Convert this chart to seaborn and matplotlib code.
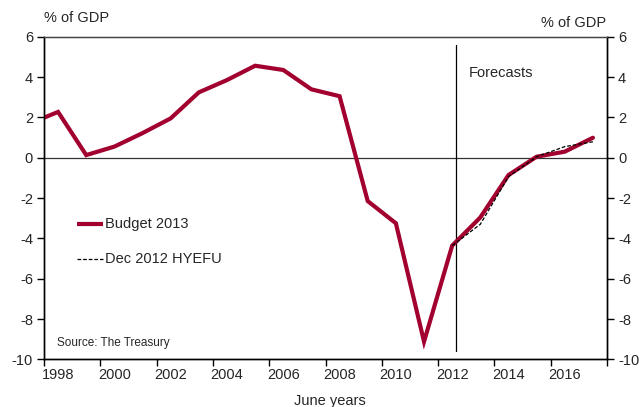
import numpy as np
import pandas as pd
import seaborn as sns
import matplotlib
matplotlib.use("Agg")
import matplotlib.pyplot as plt
from matplotlib.ticker import FixedLocator, NullFormatter, FixedFormatter

# Operating balance, % of GDP, June years
budget_years = [1997, 1998, 1999, 2000, 2001, 2002, 2003, 2004, 2005, 2006, 2007,
                2008, 2009, 2010, 2011, 2012, 2013, 2014, 2015, 2016, 2017]
budget_values = [1.7, 2.27, 0.13, 0.55, 1.22, 1.95, 3.24, 3.85, 4.56, 4.35, 3.39,
                 3.05, -2.15, -3.25, -9.12, -4.36, -2.96, -0.86, 0.05, 0.30, 0.99]

hyefu_years = [2012, 2013, 2014, 2015, 2016, 2017]
hyefu_values = [-4.36, -3.3, -0.94, 0.05, 0.55, 0.79]

tick_years = [1998, 2000, 2002, 2004, 2006, 2008, 2010, 2012, 2014, 2016]
y_ticks = [-10, -8, -6, -4, -2, 0, 2, 4, 6]

forecast_start = 2012.64

sns.set_theme(style="white")
plt.rcParams["font.family"] = ["Liberation Sans", "DejaVu Sans"]

RED = "#A2002F"
FS = 10.5

df_b = pd.DataFrame({"year": np.array(budget_years) + 0.5, "value": budget_values,
                     "series": "Budget 2013"})
df_h = pd.DataFrame({"year": np.array(hyefu_years) + 0.5, "value": hyefu_values,
                     "series": "Dec 2012 HYEFU"})

fig = plt.figure(figsize=(6.42, 4.07), dpi=100)
ax = fig.add_axes([44 / 642, 1 - 359.4 / 407, (607 - 44) / 642, (359.4 - 36.7) / 407])

ax.axhline(0, color="#333333", lw=0.9, zorder=1)
ax.axvline(forecast_start, ymin=(-9.57 + 10) / 16, ymax=(5.6 + 10) / 16,
           color="black", lw=0.9, zorder=1)

sns.lineplot(data=df_b, x="year", y="value", color=RED, lw=3.0, ax=ax,
             legend=False, zorder=3, solid_joinstyle="miter")
sns.lineplot(data=df_h, x="year", y="value", color="black", lw=0.9, ax=ax,
             legend=False, zorder=4, linestyle=(0, (3, 1.5)))

ax.set_xlim(1998, 2018)
ax.set_ylim(-10, 6)
ax.set_xlabel("")
ax.set_ylabel("")

ax.xaxis.set_major_locator(FixedLocator(tick_years + [2018]))
ax.xaxis.set_major_formatter(NullFormatter())
ax.xaxis.set_minor_locator(FixedLocator([y + 0.5 for y in tick_years]))
ax.xaxis.set_minor_formatter(FixedFormatter([str(y) for y in tick_years]))
ax.tick_params(axis="x", which="major", direction="out", length=5, width=1,
               color="black", bottom=True)
ax.tick_params(axis="x", which="minor", length=0, labelsize=FS, pad=6, bottom=True)

ax.set_yticks(y_ticks)
ax.set_yticklabels([str(v) for v in y_ticks], fontsize=FS)
ax.tick_params(axis="y", direction="out", length=5, width=1, color="black", left=True,
               pad=3)

ax2 = ax.twinx()
ax2.set_ylim(-10, 6)
ax2.set_yticks(y_ticks)
ax2.set_yticklabels([str(v) for v in y_ticks], fontsize=FS)
ax2.tick_params(axis="y", direction="out", length=5, width=1, color="black", right=True,
                pad=3)

for a in (ax, ax2):
    for side in ("left", "right", "bottom"):
        a.spines[side].set_color("black")
        a.spines[side].set_linewidth(1.0)
    a.spines["top"].set_color("#444444")
    a.spines["top"].set_linewidth(0.9)

# Legend drawn as line samples with labels
ax.plot([1999.16, 2000.1], [-3.3, -3.3], color=RED, lw=3.0, solid_capstyle="butt")
ax.text(2000.15, -3.3, "Budget 2013", fontsize=FS, va="center", ha="left")
ax.plot([1999.16, 2000.1], [-5.0, -5.0], color="black", lw=0.9, linestyle=(0, (3, 1.5)))
ax.text(2000.15, -5.0, "Dec 2012 HYEFU", fontsize=FS, va="center", ha="left")

ax.text(1998.45, -9.2, "Source: The Treasury", fontsize=8.5, va="center", ha="left")
ax.text(2013.1, 4.2, "Forecasts", fontsize=FS, va="center", ha="left")

fig.text(44 / 642, 1 - 18 / 407, "% of GDP", fontsize=FS, ha="left", va="center")
fig.text(606 / 642, 1 - 23 / 407, "% of GDP", fontsize=FS, ha="right", va="center")
fig.text(330 / 642, 1 - 400.5 / 407, "June years", fontsize=FS, ha="center", va="center")

fig.savefig("out.png", dpi=100)
